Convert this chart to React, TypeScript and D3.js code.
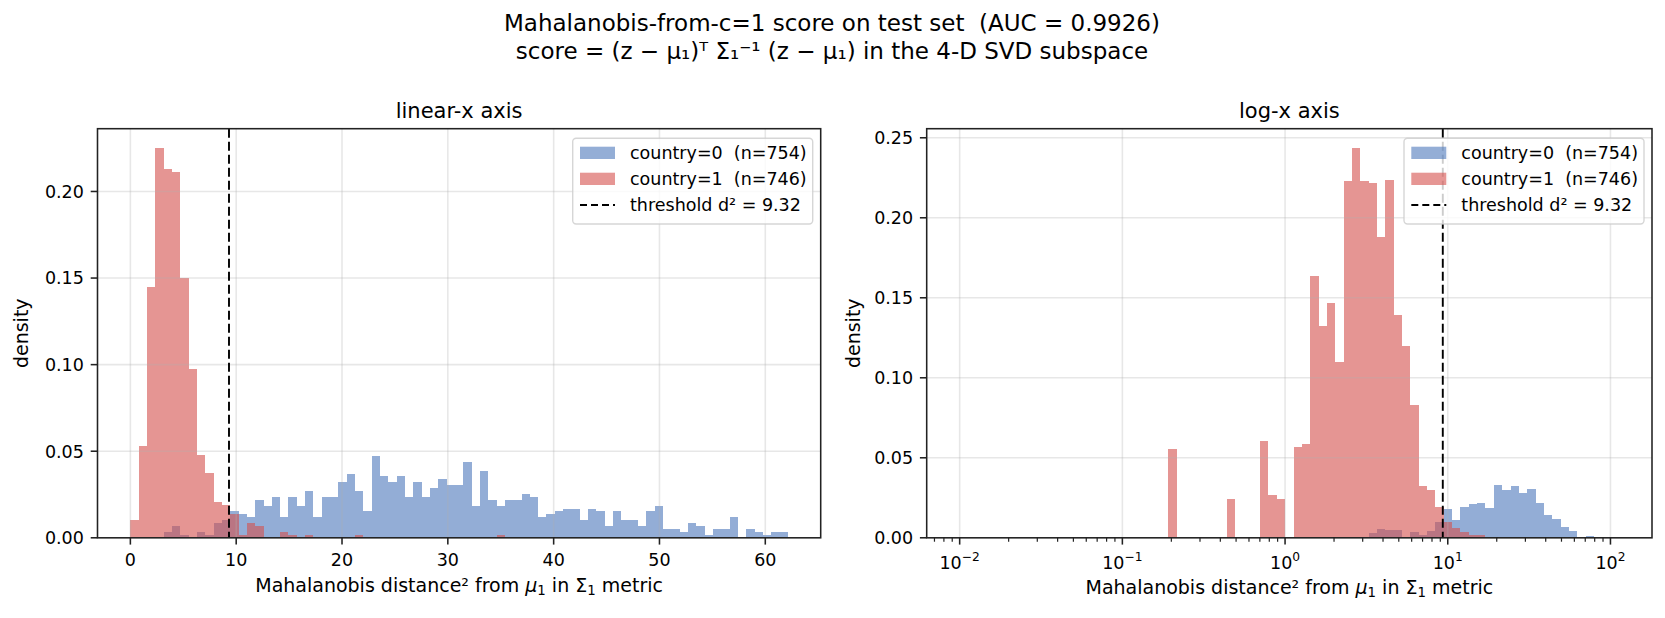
import React from "react";
import * as d3 from "d3";

const FONT = "'DejaVu Sans', sans-serif";

const N_COUNTRY0 = 754;
const N_COUNTRY1 = 746;
const THRESHOLD = 9.32;
const AUC = 0.9926;

// both histograms use 79 bins; linear bins over [0, 62.13], log bins over [1e-2, 112.9]
const N_BINS = 79;
const LIN_RANGE = [0, 62.13];
const LOG_RANGE = [0.01, 112.9];

// densities, one value per bin
const linCountry0 = [
  0, 0, 0, 0, 0.0034, 0.0067, 0.0017, 0, 0.0034, 0.0017,
  0.0084, 0.0101, 0.0152, 0.0135, 0.0118, 0.0219, 0.0186, 0.0236, 0.0118, 0.0236,
  0.0186, 0.027, 0.0118, 0.0236, 0.0236, 0.032, 0.0371, 0.027, 0.0152, 0.0472,
  0.0354, 0.032, 0.0354, 0.0236, 0.032, 0.0236, 0.0287, 0.0337, 0.0304, 0.0304,
  0.0438, 0.0186, 0.0388, 0.0219, 0.0186, 0.0219, 0.0219, 0.0253, 0.0236, 0.0118,
  0.0135, 0.0152, 0.0169, 0.0169, 0.0101, 0.0169, 0.0152, 0.0067, 0.0152, 0.0101,
  0.0101, 0.0067, 0.0152, 0.0186, 0.0051, 0.0051, 0.0034, 0.0084, 0.0067, 0.0017,
  0.0051, 0.0051, 0.0118, 0, 0.0051, 0.0034, 0.0017, 0.0034, 0.0034,
];
const linCountry1 = [
  0.0102, 0.0528, 0.1449, 0.225, 0.2131, 0.2114, 0.15, 0.0972, 0.0477, 0.0375,
  0.0205, 0.0187, 0.0136, 0.0017, 0.0085, 0.0068, 0, 0, 0.0034, 0.0017,
  0, 0.0017, 0, 0, 0, 0, 0, 0.0017, 0, 0,
  0, 0, 0, 0, 0, 0, 0, 0, 0, 0,
  0, 0, 0, 0, 0.0017, 0, 0, 0, 0, 0,
  0, 0, 0, 0, 0, 0, 0, 0, 0, 0,
  0, 0, 0, 0, 0, 0, 0, 0, 0, 0,
  0, 0, 0, 0, 0, 0, 0, 0, 0,
];

// densities
const logCountry0 = [
  0, 0, 0, 0, 0, 0, 0, 0, 0, 0,
  0, 0, 0, 0, 0, 0, 0, 0, 0, 0,
  0, 0, 0, 0, 0, 0, 0, 0, 0, 0,
  0, 0, 0, 0, 0, 0, 0, 0, 0, 0,
  0, 0, 0, 0, 0, 0, 0, 0, 0, 0.0027,
  0.0054, 0.0048, 0.0048, 0, 0.0035, 0.0017, 0.0042, 0.0098, 0.0179, 0.011,
  0.0192, 0.021, 0.0217, 0.0185, 0.0329, 0.0298, 0.0323, 0.0279, 0.0304, 0.0217,
  0.0142, 0.0117, 0.0067, 0.0042, 0, 0.0012, 0, 0, 0,
];
const logCountry1 = [
  0, 0, 0, 0, 0, 0, 0, 0, 0, 0,
  0, 0, 0, 0, 0, 0, 0, 0, 0, 0,
  0, 0, 0, 0, 0, 0.0554, 0, 0, 0, 0,
  0, 0, 0.0242, 0, 0, 0, 0.0604, 0.0267, 0.0242, 0,
  0.0567, 0.0585, 0.1635, 0.1323, 0.1467, 0.1098, 0.2227, 0.2435, 0.2233, 0.2217,
  0.1879, 0.2235, 0.1392, 0.1198, 0.0829, 0.0323, 0.0298, 0.0192, 0.0098, 0.006,
  0.0035, 0.0017, 0.0017, 0, 0, 0, 0, 0, 0, 0,
  0, 0, 0, 0, 0, 0, 0, 0, 0,
];

const linXTicks = [0, 10, 20, 30, 40, 50, 60];
const linYTicks = [0, 0.05, 0.1, 0.15, 0.2];
const logXTicks = [-2, -1, 0, 1, 2];
const logYTicks = [0, 0.05, 0.1, 0.15, 0.2, 0.25];

const BLUE = "#4d78bb";
const RED = "#d5504d";
const ALPHA = 0.6;

const TOP = 128.7;
const BOTTOM = 537.8;
const TICK_FS = 17.5;
const LABEL_FS = 19;
const TICK_LEN = 6.8;
const LW = 1.56;

const fmt = d3.format(".2f");

function Legend({ right }) {
  const w = 240;
  const h = 85.7;
  const bx = right - 8 - w;
  const by = TOP + 9.6;
  const rows = [
    { label: `country=0  (n=${N_COUNTRY0})`, color: BLUE },
    { label: `country=1  (n=${N_COUNTRY1})`, color: RED },
  ];
  return (
    <g>
      <rect x={bx} y={by} width={w} height={h} rx={3.5} fill="#fff" fillOpacity={0.8}
        stroke="#cccccc" strokeOpacity={0.8} strokeWidth={1.4} />
      {rows.map((r, i) => (
        <g key={i}>
          <rect x={bx + 7.3} y={by + 8.4 + i * 26} width={35} height={12.3} fill={r.color} opacity={ALPHA} />
          <text x={bx + 57.3} y={by + 20.8 + i * 26} fontSize={TICK_FS} style={{ whiteSpace: "pre" }}>{r.label}</text>
        </g>
      ))}
      <line x1={bx + 7.3} x2={bx + 42.3} y1={by + 66.7} y2={by + 66.7} stroke="#000" strokeWidth={1.9} strokeDasharray="7,4" />
      <text x={bx + 57.3} y={by + 72.9} fontSize={TICK_FS}>{`threshold d² = ${THRESHOLD}`}</text>
    </g>
  );
}

function Panel({ left, right, log, c0, c1, title }) {
  const lo = log ? Math.log10(LOG_RANGE[0]) : LIN_RANGE[0];
  const hi = log ? Math.log10(LOG_RANGE[1]) : LIN_RANGE[1];
  const steps = d3.range(N_BINS + 1).map((i) => lo + (i * (hi - lo)) / N_BINS);
  const edges = log ? steps.map((s) => Math.pow(10, s)) : steps;
  const m = 0.05 * (hi - lo);
  const x = log
    ? d3.scaleLog().domain([Math.pow(10, lo - m), Math.pow(10, hi + m)]).range([left, right])
    : d3.scaleLinear().domain([lo - m, hi + m]).range([left, right]);
  const ymax = d3.max([...c0, ...c1]) * 1.05;
  const y = d3.scaleLinear().domain([0, ymax]).range([BOTTOM, TOP]);

  const yTicks = log ? logYTicks : linYTicks;
  const xMajor = log ? logXTicks.map((e) => Math.pow(10, e)) : linXTicks;
  const [dLo, dHi] = x.domain();
  const xMinor = log
    ? d3.range(-3, 3).flatMap((e) => d3.range(2, 10).map((k) => k * Math.pow(10, e)))
        .filter((v) => v >= dLo && v <= dHi)
    : [];

  const bars = (vals, color) => (
    <g fill={color} opacity={ALPHA} shapeRendering="crispEdges">
      {vals.map((v, i) =>
        v > 0 ? (
          <rect key={i} x={x(edges[i])} y={y(v)} width={x(edges[i + 1]) - x(edges[i])} height={y(0) - y(v)} />
        ) : null
      )}
    </g>
  );

  const cx = (left + right) / 2;
  const cy = (TOP + BOTTOM) / 2;

  return (
    <g>
      {bars(c0, BLUE)}
      {bars(c1, RED)}
      <g stroke="#b0b0b0" strokeOpacity={0.3} strokeWidth={LW}>
        {xMajor.map((v, i) => (
          <line key={"gx" + i} x1={x(v)} x2={x(v)} y1={TOP} y2={BOTTOM} />
        ))}
        {yTicks.map((v, i) => (
          <line key={"gy" + i} x1={left} x2={right} y1={y(v)} y2={y(v)} />
        ))}
      </g>
      <line x1={x(THRESHOLD)} x2={x(THRESHOLD)} y1={TOP} y2={BOTTOM} stroke="#000" strokeWidth={1.9} strokeDasharray="9,4" />
      <rect x={left} y={TOP} width={right - left} height={BOTTOM - TOP} fill="none" stroke="#222" strokeWidth={LW} />
      <g stroke="#222" strokeWidth={LW}>
        {yTicks.map((v, i) => (
          <line key={"ty" + i} x1={left - TICK_LEN} x2={left} y1={y(v)} y2={y(v)} />
        ))}
        {xMajor.map((v, i) => (
          <line key={"tx" + i} x1={x(v)} x2={x(v)} y1={BOTTOM} y2={BOTTOM + TICK_LEN} />
        ))}
        {xMinor.map((v, i) => (
          <line key={"tm" + i} x1={x(v)} x2={x(v)} y1={BOTTOM} y2={BOTTOM + 3.9} strokeWidth={1.2} />
        ))}
      </g>
      <g fontSize={TICK_FS} fill="#000">
        {yTicks.map((v, i) => (
          <text key={"ly" + i} x={left - 2 * TICK_LEN} y={y(v)} dy="0.36em" textAnchor="end">{fmt(v)}</text>
        ))}
        {log
          ? logXTicks.map((e, i) => (
              <text key={"lx" + i} x={x(Math.pow(10, e))} y={BOTTOM + 31} textAnchor="middle">
                10<tspan dy={-8} fontSize={TICK_FS * 0.7}>{e < 0 ? "\u2212" + -e : String(e)}</tspan>
              </text>
            ))
          : linXTicks.map((v, i) => (
              <text key={"lx" + i} x={x(v)} y={BOTTOM + 28} textAnchor="middle">{v}</text>
            ))}
      </g>
      <text x={cx} y={TOP - 11} textAnchor="middle" fontSize={21}>{title}</text>
      <text x={cx} y={log ? BOTTOM + 56 : BOTTOM + 54} textAnchor="middle" fontSize={LABEL_FS}>
        {"Mahalanobis distance² from "}
        <tspan fontStyle="italic">μ</tspan>
        <tspan fontSize={LABEL_FS * 0.7} dy={3}>1</tspan>
        <tspan dy={-3}>{" in Σ"}</tspan>
        <tspan fontSize={LABEL_FS * 0.7} dy={3}>1</tspan>
        <tspan dy={-3}>{" metric"}</tspan>
      </text>
      <text transform={`translate(${left - (log ? 67 : 70)},${cy}) rotate(-90)`} textAnchor="middle" fontSize={LABEL_FS}>density</text>
      <Legend right={right} />
    </g>
  );
}

export default function App() {
  return (
    <svg width={1665} height={618} fontFamily={FONT}
      style={{ position: "absolute", left: 0, top: 0, background: "#fff" }}>
      <rect width={1665} height={618} fill="#fff" />
      <text x={832} y={31} textAnchor="middle" fontSize={23} style={{ whiteSpace: "pre" }}>
        {`Mahalanobis-from-c=1 score on test set  (AUC = ${AUC})`}
      </text>
      <text x={832} y={58.5} textAnchor="middle" fontSize={23}>
        {"score = (z \u2212 \u03bc\u2081)\u1d40 \u03a3\u2081\u207b\u00b9 (z \u2212 \u03bc\u2081) in the 4-D SVD subspace"}
      </text>
      <Panel left={97.5} right={820.7} log={false} c0={linCountry0} c1={linCountry1} title="linear-x axis" />
      <Panel left={926.7} right={1652} log={true} c0={logCountry0} c1={logCountry1} title="log-x axis" />
    </svg>
  );
}
